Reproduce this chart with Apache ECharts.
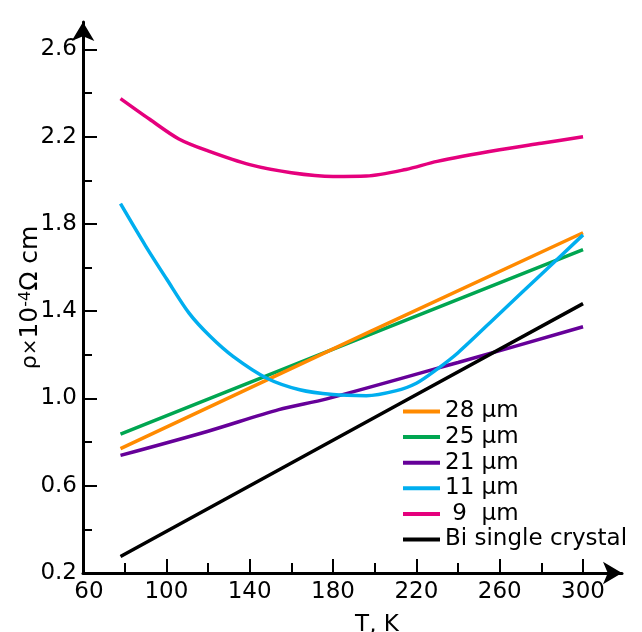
<!DOCTYPE html>
<html>
<head>
<meta charset="utf-8">
<script src="https://cdn.jsdelivr.net/npm/echarts@6/dist/echarts.min.js"></script>
<style>
  html, body { margin: 0; padding: 0; background: #fff; }
  #chart { width: 642px; height: 632px; }
</style>
</head>
<body>
<div id="chart"></div>
<script>
  // temperatures (K) and resistivity (x10^-4 Ohm cm) per film thickness
  const t28 = [78, 198, 300]
  const rho28 = [0.77, 1.308, 1.76]
  const t25 = [78, 181, 300]
  const rho25 = [0.837, 1.23, 1.683]
  const t21 = [78, 120, 154, 177, 240, 300]
  const rho21 = [0.739, 0.85, 0.949, 0.998, 1.165, 1.329]
  const t11 = [78, 90, 100, 111, 121, 132, 148, 164, 180, 196, 210, 220, 230, 240, 260, 280, 300]
  const rho11 = [1.893, 1.70, 1.55, 1.39, 1.285, 1.193, 1.094, 1.04, 1.018, 1.013, 1.035, 1.07, 1.135, 1.21, 1.39, 1.57, 1.75]
  const t9 = [78, 92, 106, 120, 140, 160, 180, 196, 215, 230, 260, 280, 300]
  const rho9 = [2.375, 2.28, 2.19, 2.135, 2.072, 2.035, 2.018, 2.02, 2.05, 2.087, 2.14, 2.17, 2.2]
  const tBi = [78, 212, 300]
  const rhoBi = [0.276, 0.976, 1.435]

  // tick positions
  const xMajor = [60, 100, 140, 180, 220, 260, 300]
  const xMinor = [80, 120, 160, 200, 240, 280]
  const yMajor = [0.2, 0.6, 1.0, 1.4, 1.8, 2.2, 2.6]
  const yMinor = [0.4, 0.8, 1.2, 1.6, 2.0, 2.4]

  const legendNames = ['28 μm', '25 μm', '21 μm', '11 μm', ' 9  μm', 'Bi single crystal']

  const font = 'DejaVu Sans'
  const xMin = 60, xMax = 318.7
  const yMin = 0.2, yMax = 2.726

  function pairs(xs, ys) {
    return xs.map((x, i) => [x, ys[i]])
  }

  function line(name, xs, ys, color, smooth) {
    return {
      name: name,
      type: 'line',
      data: pairs(xs, ys),
      showSymbol: false,
      smooth: smooth,
      itemStyle: { color: color },
      lineStyle: { color: color, width: 3.5 }
    }
  }

  // invisible overlay axis carrying only the short minor ticks
  function minorAxis(pos, min, max, values, len) {
    return {
      type: 'value',
      position: pos,
      min: min,
      max: max,
      axisLine: { show: false, onZero: false },
      axisLabel: { show: false },
      splitLine: { show: false },
      axisTick: {
        inside: true,
        length: len,
        customValues: values,
        lineStyle: { color: '#000', width: 2 }
      }
    }
  }

  const chart = echarts.init(document.getElementById('chart'))
  chart.setOption({
    animation: false,
    grid: { left: 83, right: 20, top: 22, bottom: 59, outerBoundsMode: 'none', containLabel: false },
    legend: {
      data: legendNames,
      orient: 'vertical',
      left: 403,
      top: 400,
      icon: 'rect',
      itemWidth: 37,
      itemHeight: 4,
      itemGap: 2.6,
      padding: 0,
      selectedMode: false,
      textStyle: { fontFamily: font, fontSize: 23, color: '#000' }
    },
    xAxis: [
      {
        type: 'value',
        position: 'bottom',
        min: xMin,
        max: xMax,
        name: 'T, K',
        nameLocation: 'middle',
        nameGap: 41,
        nameMoveOverlap: false,
        nameTextStyle: { fontFamily: font, fontSize: 23, color: '#000', padding: [0, 0, 0, 49] },
        axisLine: {
          onZero: false,
          symbol: ['none', 'arrow'],
          symbolSize: [17, 19],
          lineStyle: { color: '#000', width: 3 }
        },
        axisTick: { inside: true, length: 14, customValues: xMajor, lineStyle: { color: '#000', width: 2 } },
        splitLine: { show: false },
        axisLabel: {
          margin: 8,
          customValues: xMajor,
          fontFamily: font,
          fontSize: 23,
          color: '#000',
          formatter: function (v) {
            return v === 60 ? '{o|60}' : String(v)
          },
          rich: {
            o: { fontFamily: font, fontSize: 23, color: '#000', padding: [0, 0, 0, 12] }
          }
        }
      },
      minorAxis('bottom', xMin, xMax, xMinor, 10)
    ],
    yAxis: [
      {
        type: 'value',
        position: 'left',
        min: yMin,
        max: yMax,
        name: '{r|ρ}{x|×}10{s|-4}Ω cm',
        nameLocation: 'middle',
        nameGap: 40,
        nameMoveOverlap: false,
        nameRotate: 90,
        nameTextStyle: {
          fontFamily: font,
          fontSize: 25,
          color: '#000',
          rich: {
            r: { fontFamily: font, fontSize: 22, color: '#000' },
            x: { fontFamily: font, fontSize: 20, color: '#000' },
            s: { fontFamily: font, fontSize: 16, color: '#000', verticalAlign: 'top' }
          }
        },
        axisLine: {
          onZero: false,
          symbol: ['none', 'arrow'],
          symbolSize: [17, 19],
          lineStyle: { color: '#000', width: 3 }
        },
        axisTick: { inside: true, length: 14, customValues: yMajor, lineStyle: { color: '#000', width: 2 } },
        splitLine: { show: false },
        axisLabel: {
          margin: 6,
          customValues: yMajor,
          fontFamily: font,
          fontSize: 23,
          color: '#000',
          formatter: function (v) {
            return v.toFixed(1)
          }
        }
      },
      minorAxis('left', yMin, yMax, yMinor, 9)
    ],
    series: [
      line('25 μm', t25, rho25, '#00A651', false),
      line('28 μm', t28, rho28, '#FF8A00', false),
      line('21 μm', t21, rho21, '#660099', 0.3),
      line('11 μm', t11, rho11, '#00AEEF', 0.3),
      line(' 9  μm', t9, rho9, '#E5007D', 0.3),
      line('Bi single crystal', tBi, rhoBi, '#000000', false)
    ]
  })
</script>
</body>
</html>
